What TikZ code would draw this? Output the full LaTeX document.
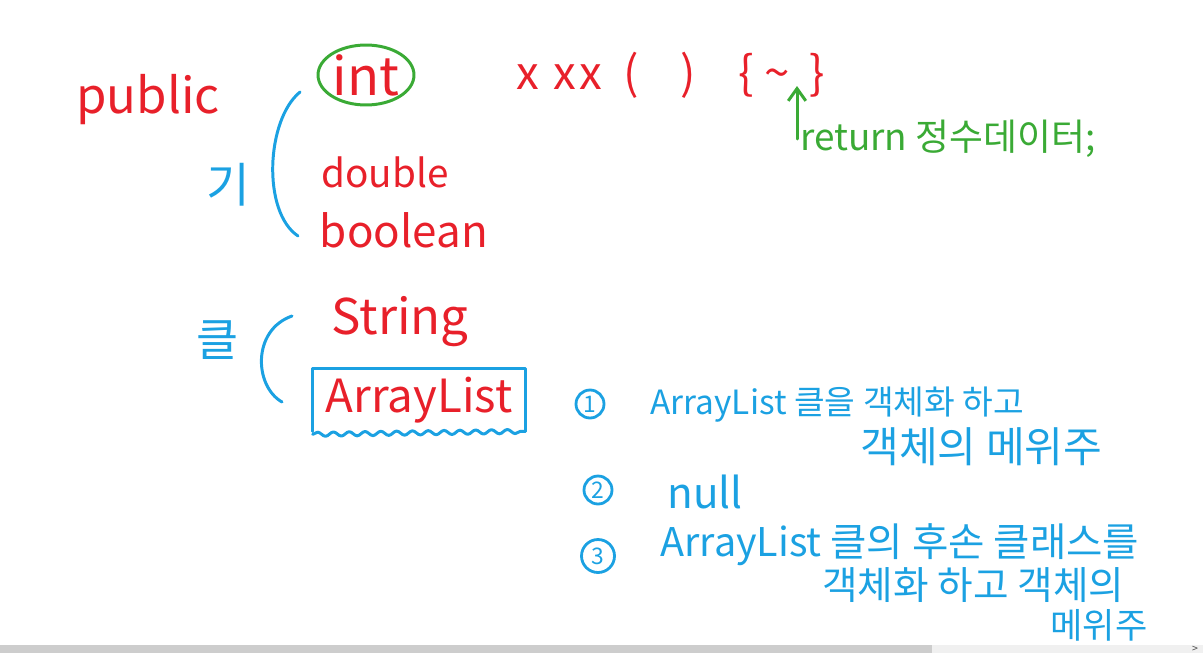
\documentclass[tikz,border=0pt]{standalone}
\usepackage{fontspec}
\setmainfont{Noto Sans CJK KR}
\usepackage{tikz}
\usetikzlibrary{shapes.geometric, arrows.meta, positioning, decorations.pathmorphing}
\definecolor{penred}{HTML}{E8202A}
\definecolor{pengreen}{HTML}{3AAA35}
\definecolor{penblue}{HTML}{1BA1E2}
\definecolor{barbase}{HTML}{F0F0F0}
\definecolor{barthumb}{HTML}{CDCDCD}

\begin{document}
\begin{tikzpicture}[
    x=0.02cm, y=-0.02cm,
    hand/.style={text=penred, font=\fontsize{26}{28}\selectfont, inner sep=0pt},
    note/.style={text=penblue, font=\fontsize{20}{22}\selectfont, inner sep=0pt, anchor=west},
    remark/.style={text=pengreen, font=\fontsize{21}{23}\selectfont, inner sep=0pt, anchor=west},
    num/.style={circle, draw=penblue, line width=1.6pt, text=penblue, minimum size=0.56cm,
        inner sep=0pt, font=\fontsize{13}{14}\selectfont},
    pen/.style={line width=1.7pt, line cap=round, line join=round}
]
\useasboundingbox (0,0) rectangle (1203,653);

% method header
\node[hand, font=\fontsize{28}{30}\selectfont] (public) at (148,100) {public};
\node[hand, font=\fontsize{30}{32}\selectfont] (int) at (366,75) {int};
\draw[pen, pengreen] (int) ellipse [x radius=0.96cm, y radius=0.6cm];
\node[hand, anchor=west] (method) at (516,75)
    {x\hspace{8pt}x\hspace{2pt}x\hspace{12pt}(\hspace{24pt})\hspace{24pt}\{\hspace{6pt}\textasciitilde\hspace{11pt}\}};
\coordinate (tilde) at (797,86);
\node[remark] (ret) at (800,139) {return 정수데이터;};
\draw[pen, pengreen, -{Straight Barb[length=7pt, width=10pt]}] (tilde |- ret.center) -- (tilde);

% primitive types
\node[hand, font=\fontsize{22}{24}\selectfont] (double) at (385,172) {double};
\node[hand, font=\fontsize{25}{27}\selectfont] (boolean) at (404,230) {boolean};
\node[text=penblue, font=\fontsize{27}{29}\selectfont] (prim) at (228,185) {기};
\draw[pen, penblue] (300,92) .. controls (266,120) and (262,212) .. (298,236);

% class types
\node[hand, font=\fontsize{28}{30}\selectfont] (string) at (400,322) {String};
\node[hand, minimum width=4.24cm, minimum height=1.24cm] (arrlist) at (419,400) {ArrayList};
\draw[pen, penblue] (arrlist.south west) -- (arrlist.north west) -- (arrlist.north east) -- (arrlist.south east);
\draw[pen, penblue, decorate, decoration={snake, amplitude=1.2pt, segment length=9pt}]
    ([yshift=-0.06cm]arrlist.south west) -- (arrlist.south east);
\node[text=penblue, font=\fontsize{26}{28}\selectfont] (cls) at (218,340) {클};
\draw[pen, penblue] (292,316) .. controls (252,330) and (254,386) .. (282,402);

% possible return values
\node[num] (n1) at (590,404) {1};
\node[note, font=\fontsize{19}{21}\selectfont] (one_a) at (650,405) {ArrayList 클을 객체화 하고};
\node[note, font=\fontsize{24}{26}\selectfont] (one_b) at (860,447) {객체의 메위주};

\node[num] (n2) at (598,490) {2};
\node[note, font=\fontsize{24}{26}\selectfont] (two) at (667,492) {null};

\node[num, minimum size=0.66cm] (n3) at (598,556) {3};
\node[note, font=\fontsize{22.5}{24}\selectfont] (three_a) at (660,545) {ArrayList 클의 후손 클래스를};
\node[note, font=\fontsize{22}{24}\selectfont] (three_b) at (822,585) {객체화 하고 객체의};
\node[note] (three_c) at (1050,625) {메위주};

% scroll bar
\fill[barthumb] (0,645) rectangle (932,653);
\fill[barbase] (932,645) rectangle (1203,653);
\node[text=black!70, font=\fontsize{6}{6}\selectfont, inner sep=0pt] (scroll) at (1195,649) {>};
\end{tikzpicture}
\end{document}
